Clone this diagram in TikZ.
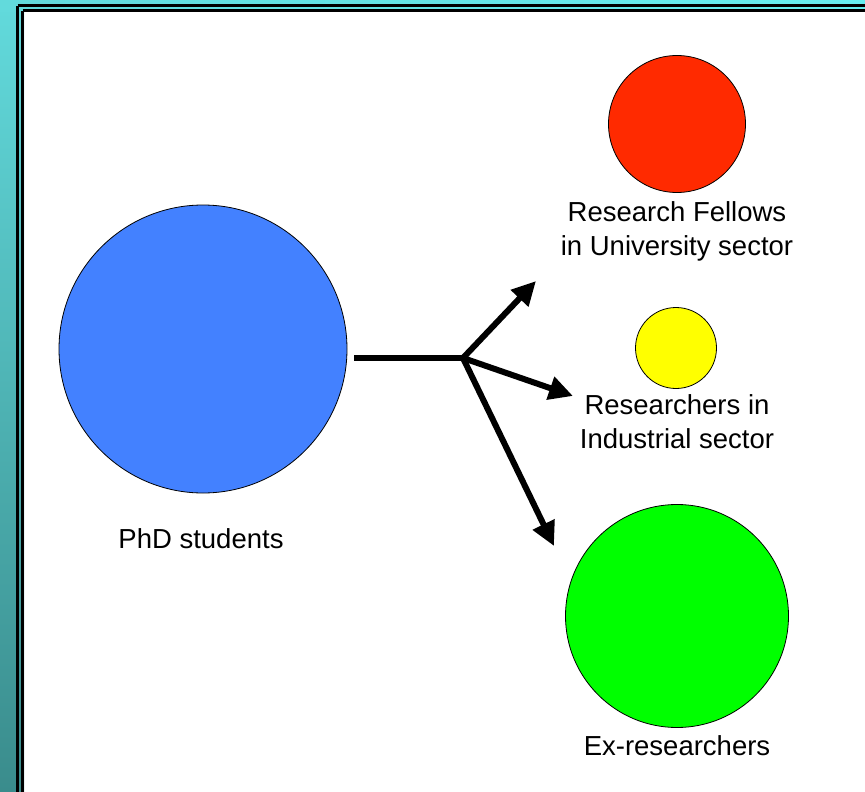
\documentclass[tikz,border=0pt]{standalone}
\usepackage{fontspec}
\setmainfont{Liberation Sans}
\usetikzlibrary{arrows.meta}
\definecolor{cyanL}{HTML}{62DADC}
\definecolor{cyanD}{HTML}{3A8C8C}
\definecolor{cyanT}{HTML}{66EEF0}
\definecolor{pblue}{HTML}{4381FF}
\definecolor{pred}{HTML}{FF2A00}
\definecolor{pyellow}{HTML}{FFFF00}
\definecolor{pgreen}{HTML}{00FF00}
\tikzset{
  blob/.style={circle, draw=black, line width=0.8pt, inner sep=0pt},
  lbl/.style={font=\fontsize{27.5}{34}\selectfont, align=center, inner sep=0pt},
  flow/.style={line width=6pt, -{Triangle[length=24pt,width=23pt]}},
  bar/.style={line width=6pt}
}
\begin{document}
\begin{tikzpicture}[x=1pt,y=-1pt]
\useasboundingbox (0,0) rectangle (865,792);
\fill[white] (0,0) rectangle (865,792);
% frame background
\shade[top color=cyanL, bottom color=cyanD] (0,0) rectangle (24,792);
\shade[left color=cyanL, right color=cyanT] (0,0) rectangle (865,12);
\draw[black, line width=3pt] (17.5,5.8) -- (865,5.8);
\draw[black, line width=3pt] (17.5,5.8) -- (17.5,792);
\draw[black, line width=2.7pt] (22.7,10.7) -- (865,10.7);
\draw[black, line width=2.7pt] (22.7,10.7) -- (22.7,792);
% circles
\node[blob, fill=pblue, minimum size=288pt] (phd) at (203,349) {};
\node[blob, fill=pred, minimum size=137pt] (rf) at (677,124) {};
\node[blob, fill=pyellow, minimum size=81pt] (ind) at (676,348) {};
\node[blob, fill=pgreen, minimum size=223pt] (ex) at (677,616) {};
% labels
\node[lbl] (phdl) at (201,539) {PhD students};
\node[lbl] (rfl) at (677,231) {Research Fellows\\in University sector};
\node[lbl] (indl) at (677,422) {Researchers in\\Industrial sector};
\node[lbl] (exl) at (677,746) {Ex-researchers};
% arrows
\coordinate (s) at (354,358);
\coordinate (j) at (463,358);
\coordinate (t1) at (536,281);
\coordinate (t2) at (573,396);
\coordinate (t3) at (554,546);
\draw[bar] (s) -- (j);
\draw[flow] (j) -- (t1);
\draw[flow] (j) -- (t2);
\draw[flow] (j) -- (t3);
\end{tikzpicture}
\end{document}
